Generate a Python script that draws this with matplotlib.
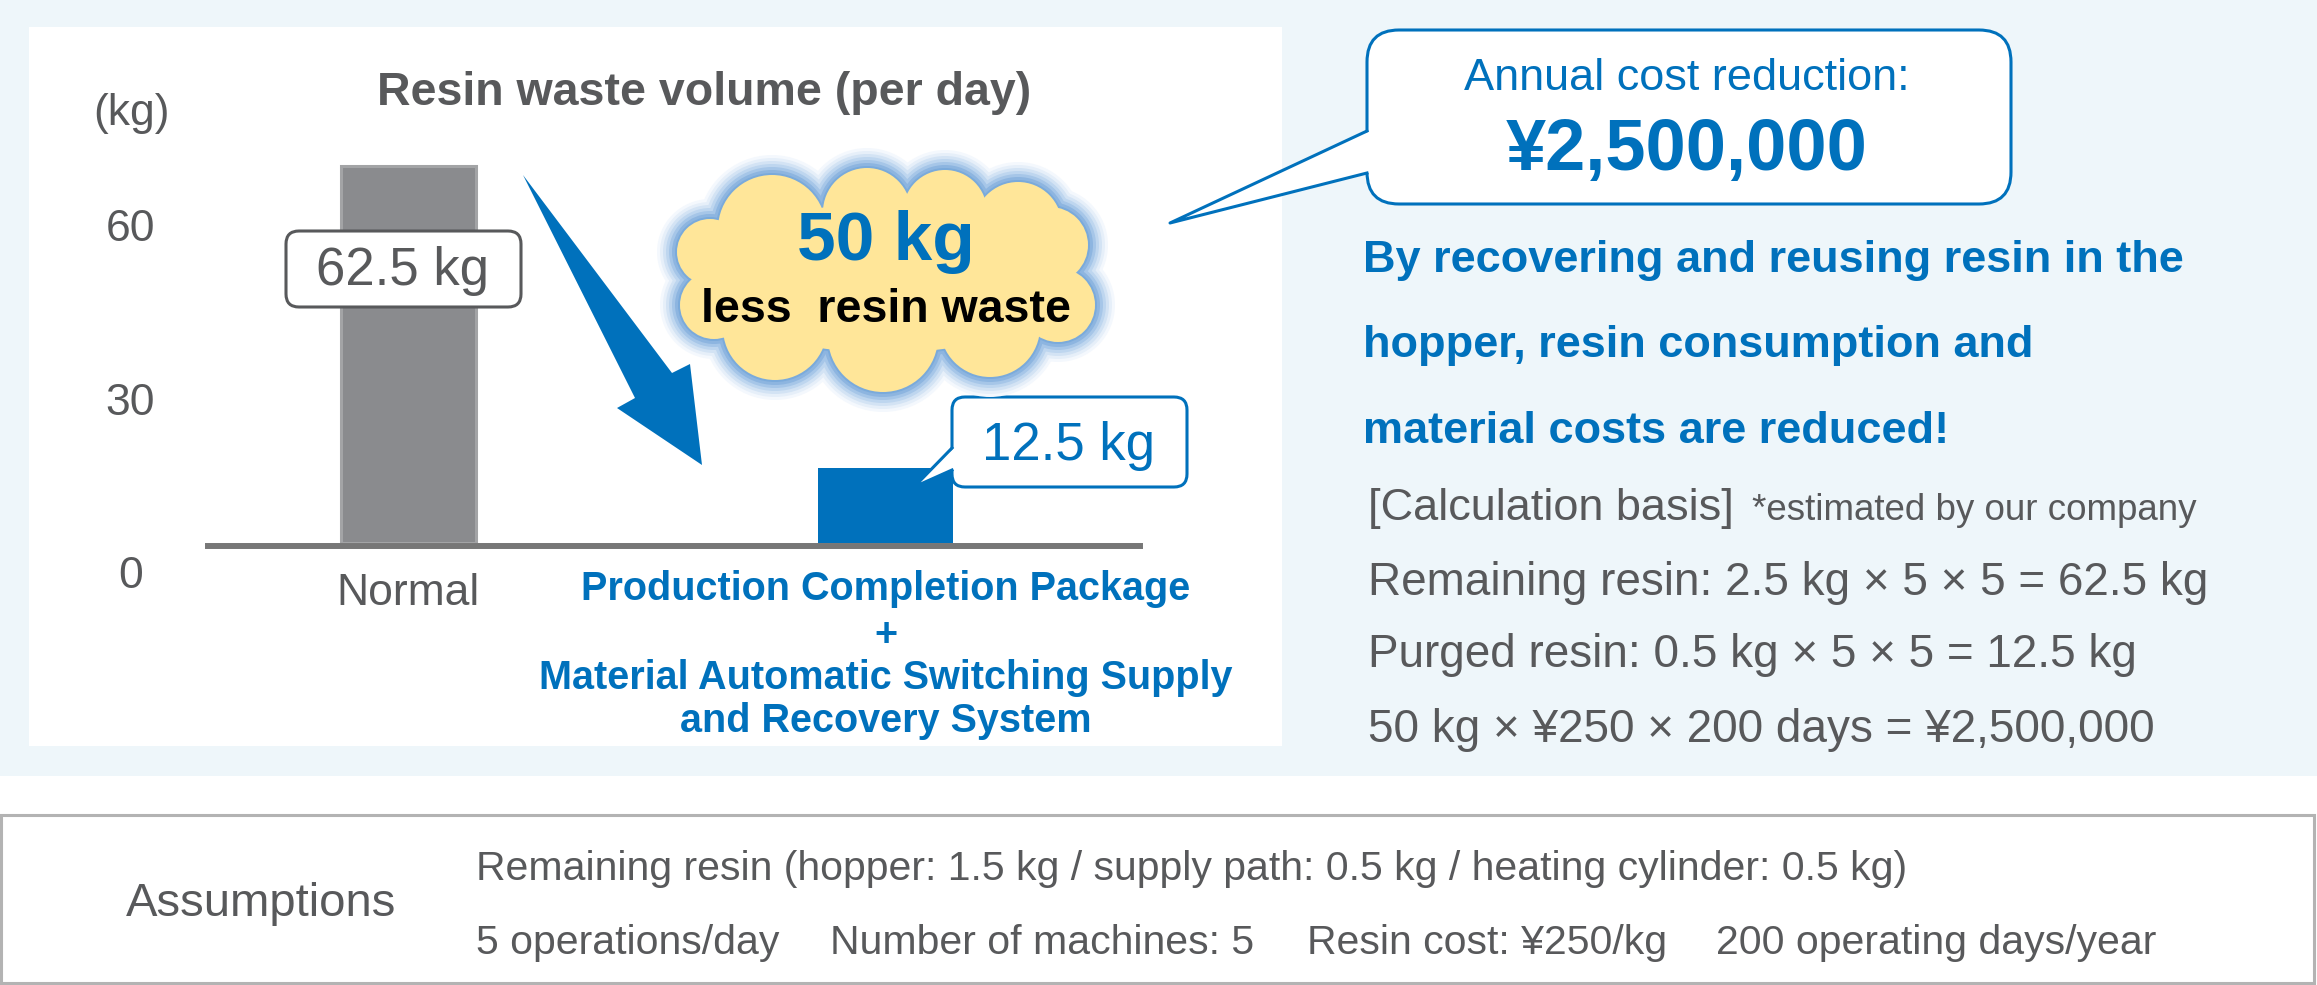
import matplotlib
matplotlib.use('Agg')
import matplotlib.pyplot as plt
import matplotlib.transforms as mtransforms
from matplotlib.patches import Rectangle, FancyBboxPatch, Polygon, Circle, Ellipse
from matplotlib.lines import Line2D

plt.rcParams['font.family'] = ['Liberation Sans', 'DejaVu Sans']

# --- data ---
categories = ['Normal', 'Production Completion Package']
category_sub = ['+', 'Material Automatic Switching Supply', 'and Recovery System']
waste_kg = [62.5, 12.5]
value_labels = ['62.5 kg', '12.5 kg']
ytick_values = [0, 30, 60]
reduction_kg = waste_kg[0] - waste_kg[1]
annual_saving = '¥2,500,000'
message_lines = ['By recovering and reusing resin in the',
                 'hopper, resin consumption and',
                 'material costs are reduced!']
calc_lines = ['Remaining resin: 2.5 kg × 5 × 5 = 62.5 kg',
              'Purged resin: 0.5 kg × 5 × 5 = 12.5 kg',
              '50 kg × ¥250 × 200 days = ¥2,500,000']
assumption_line1 = 'Remaining resin (hopper: 1.5 kg / supply path: 0.5 kg / heating cylinder: 0.5 kg)'
assumption_items = ['5 operations/day', 'Number of machines: 5',
                    'Resin cost: ¥250/kg', '200 operating days/year']

# --- colours ---
BLUE = '#0071BC'
GRAY_TXT = '#58595B'
BAR_GRAY = '#8A8B8E'
BAR_EDGE = '#A3A4A6'
AXIS_GRAY = '#777777'
BG_BLUE = '#EEF6FA'

W, H = 2317, 985
fig = plt.figure(figsize=(W / 100, H / 100), dpi=100)


def rect(x0, y0, x1, y1):
    # pixel box (y measured from the top) -> figure fraction
    return [x0 / W, 1 - y1 / H, (x1 - x0) / W, (y1 - y0) / H]


def canvas(z):
    c = fig.add_axes([0, 0, 1, 1], zorder=z)
    c.set_xlim(0, W)
    c.set_ylim(H, 0)
    c.axis('off')
    return c


back = canvas(0)
back.add_patch(Rectangle((0, 0), W, 776, color=BG_BLUE, lw=0))
back.add_patch(Rectangle((29, 27), 1253, 719, color='white', lw=0))
back.add_patch(Rectangle((1, 815), 2313, 168, facecolor='white', edgecolor='#B3B3B3', lw=2.2))

# --- bar chart ---
ax = fig.add_axes(rect(208, 100, 1140, 543), zorder=1)
ax.patch.set_visible(False)
ax.bar([0, 1], waste_kg, width=0.283, color=[BAR_GRAY, BLUE],
       edgecolor=[BAR_EDGE, BLUE], linewidth=[2.2, 0])
ax.set_xlim(-0.4203, 1.5335)
ax.set_ylim(0, (543 - 100) / 6.03)
for s in ['top', 'right', 'left']:
    ax.spines[s].set_visible(False)
ax.spines['bottom'].set_color(AXIS_GRAY)
ax.spines['bottom'].set_linewidth(4.3)
ax.spines['bottom'].set_position(('outward', 2.2))
ax.set_xticks([])
ax.set_yticks([])

# y tick labels (the picture uses its own schematic scale for them)
tax = fig.add_axes(rect(208, 100, 1140, 600), zorder=1)
tax.patch.set_visible(False)
for s in tax.spines.values():
    s.set_visible(False)
tax.set_xticks([])
tax.set_ylim((572 - 600) / 5.783, (572 - 100) / 5.783)
tax.set_yticks(ytick_values)
tax.set_yticklabels([str(v) for v in ytick_values])
tax.tick_params(axis='y', length=0, pad=56, labelsize=32, labelcolor=GRAY_TXT)
for lab in tax.get_yticklabels():
    lab.set_ha('center')

front = canvas(2)
bx = mtransforms.blended_transform_factory(ax.transData, front.transData)


def txt(x, y, s, size, color=GRAY_TXT, weight='normal', ha='left', tr=None):
    front.text(x, y, s, fontsize=size, color=color, fontweight=weight, ha=ha,
               va='baseline', transform=tr or front.transData)


txt(704, 105, 'Resin waste volume (per day)', 33.5, weight='bold', ha='center')
txt(131, 125, '(kg)', 32, ha='center')

# category labels
txt(0, 605, categories[0], 32, ha='center', tr=bx)
txt(1, 600, categories[1], 28.5, color=BLUE, weight='bold', ha='center', tr=bx)
for y, s in zip([646, 689, 732], category_sub):
    txt(1, y, s, 28.5, color=BLUE, weight='bold', ha='center', tr=bx)

# value label boxes
front.add_patch(FancyBboxPatch((286, 231), 235, 76, boxstyle='round,pad=0,rounding_size=13',
                               facecolor='white', edgecolor=GRAY_TXT, lw=2.2))
txt(403, 285, value_labels[0], 38, ha='center')

front.add_patch(FancyBboxPatch((952, 397), 235, 90, boxstyle='round,pad=0,rounding_size=13',
                               facecolor='white', edgecolor=BLUE, lw=2.2))
front.add_patch(Polygon([(954, 448), (914, 487), (954, 470)], closed=True,
                        facecolor='white', lw=0))
front.add_line(Line2D([952, 914, 952], [448, 487, 470], color=BLUE, lw=2.2))
txt(1069, 460, value_labels[1], 38, color=BLUE, ha='center')

# cloud with soft blue glow
lobes = [(772, 229, 54), (867, 212, 44), (945, 212, 42), (1018, 226, 44),
         (1050, 245, 38), (1058, 305, 37), (990, 327, 50), (883, 337, 55),
         (775, 328, 52), (714, 305, 34), (710, 252, 33)]
glow = [(20, '#F4F8FD'), (17, '#E6EFF9'), (14, '#D3E3F4'), (11, '#BED6EF'),
        (8, '#A6C6E8'), (5, '#8DB5E0'), (2, '#7AAADB')]
for off, col in glow + [(0, '#FFE699')]:
    front.add_patch(Ellipse((885, 278), 360 + 2 * off, 150 + 2 * off, color=col, lw=0))
    for cx, cy, r in lobes:
        front.add_patch(Circle((cx, cy), r + off, color=col, lw=0))
txt(886, 260, f'{reduction_kg:g} kg', 50, color=BLUE, weight='bold', ha='center')
txt(886, 322, 'less  resin waste', 33.5, color='black', weight='bold', ha='center')

# big arrow
front.add_patch(Polygon([(523, 175), (635, 398), (617, 408), (702, 465),
                         (690, 364), (672, 373)], closed=True, facecolor=BLUE, lw=0))

# callout
front.add_patch(FancyBboxPatch((1367, 30), 644, 174, boxstyle='round,pad=0,rounding_size=32',
                               facecolor='white', edgecolor=BLUE, lw=2.2))
front.add_patch(Polygon([(1370, 131), (1170, 223), (1370, 173)], closed=True,
                        facecolor='white', lw=0))
front.add_line(Line2D([1367, 1170, 1367], [131, 223, 173], color=BLUE, lw=2.2))
txt(1687, 90, 'Annual cost reduction:', 32.5, color=BLUE, ha='center')
txt(1687, 170, annual_saving, 52, color=BLUE, weight='bold', ha='center')

for y, s in zip([272, 357, 443], message_lines):
    txt(1363, y, s, 32.5, color=BLUE, weight='bold')

txt(1368, 520, '[Calculation basis]', 32.5)
txt(1752, 520, '*estimated by our company', 26.5)
for y, s in zip([595, 667, 742], calc_lines):
    txt(1368, y, s, 33)

# assumptions box
txt(126, 916, 'Assumptions', 34)
txt(476, 880, assumption_line1, 29.5)
for x, s in zip([476, 830, 1307, 1716], assumption_items):
    txt(x, 954, s, 29.5)

fig.savefig('out.png', dpi=100)
